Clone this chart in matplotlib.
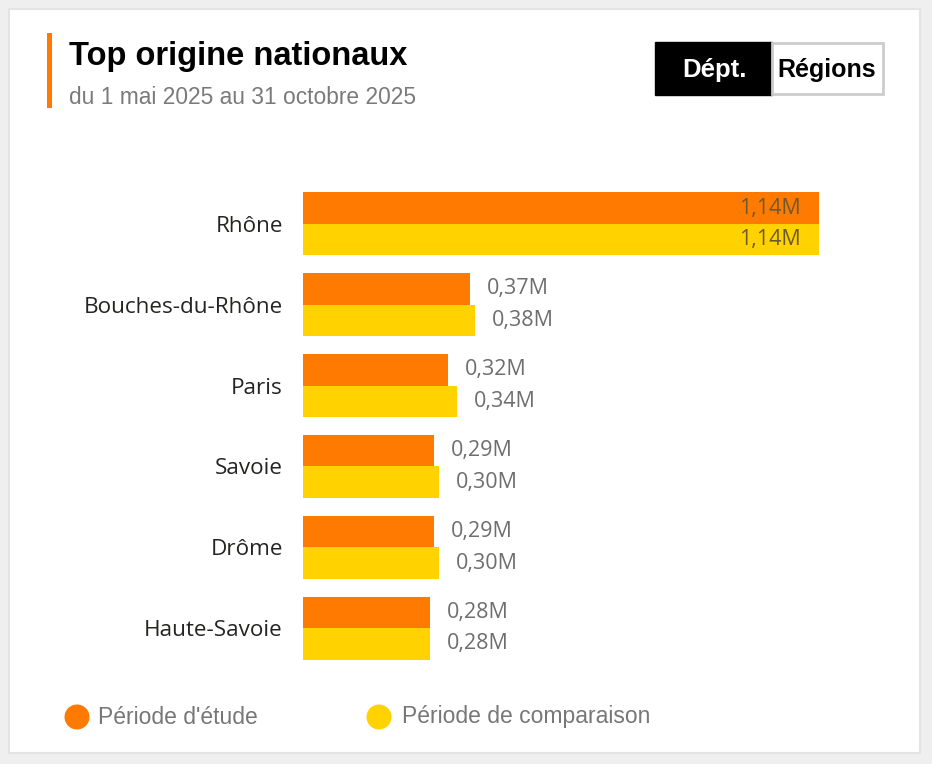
import matplotlib.pyplot as plt
from matplotlib.patches import Rectangle, Ellipse

# data (millions)
departements = ["Rhône", "Bouches-du-Rhône", "Paris", "Savoie", "Drôme", "Haute-Savoie"]
periode_etude = [1.14, 0.37, 0.32, 0.29, 0.29, 0.28]
periode_comparaison = [1.14, 0.38, 0.34, 0.30, 0.30, 0.28]
legende = ["Période d'étude", "Période de comparaison"]

ORANGE = "#FF7A00"
JAUNE = "#FFD200"
W, H = 932, 764

def fx(px):
    return px / W

def fy(py):
    return 1 - py / H

def fmt(v):
    return ("%.2f" % v).replace(".", ",") + "M"

fig = plt.figure(figsize=(W / 100, H / 100), dpi=100, facecolor="#efefef")

# white card
fig.patches.append(Rectangle((fx(9), fy(753)), fx(911), (753 - 9) / H, transform=fig.transFigure,
                             facecolor="white", edgecolor="#e4e4e4", lw=1.5, zorder=-10))
# accent bar
fig.patches.append(Rectangle((fx(47), fy(108)), fx(5), 75 / H, transform=fig.transFigure,
                             facecolor=ORANGE, edgecolor="none", zorder=1))

fig.text(fx(69), fy(57), "Top origine nationaux", fontsize=23.5, fontweight="bold",
         family="Liberation Sans", va="center", ha="left")
fig.text(fx(69), fy(97), "du 1 mai 2025 au 31 octobre 2025", fontsize=16.4,
         family="Liberation Sans", color="#7a7a7a", va="center", ha="left")

# toggle buttons
fig.patches.append(Rectangle((fx(655), fy(95)), fx(117), 53 / H, transform=fig.transFigure,
                             facecolor="black", edgecolor="black", zorder=1))
fig.patches.append(Rectangle((fx(772), fy(94)), fx(111), 51 / H, transform=fig.transFigure,
                             facecolor="white", edgecolor="#cccccc", lw=2, zorder=1))
fig.text(fx(714), fy(70), "Dépt.", fontsize=18.5, fontweight="bold", color="white",
         family="Liberation Sans", ha="center", va="center")
fig.text(fx(827), fy(70), "Régions", fontsize=18, fontweight="bold", color="black",
         family="Liberation Sans", ha="center", va="center")

# bars
ax = fig.add_axes([fx(303), fy(668.5), fx(881 - 303), (668.5 - 183.5) / H])
ax.set_zorder(5)
ax.set_facecolor("none")
h = 0.39
ys = list(range(len(departements)))
ax.barh([y - h / 2 for y in ys], periode_etude, height=h, color=ORANGE)
ax.barh([y + h / 2 for y in ys], periode_comparaison, height=h, color=JAUNE)
ax.set_xlim(0, 1.277)
ax.set_ylim(len(departements) - 0.5, -0.5)
ax.set_yticks(ys)
ax.set_yticklabels(departements, fontsize=16.2, family="Open Sans", color="#252423")
ax.tick_params(axis="y", length=0, pad=14.5)
ax.set_xticks([])
for s in ax.spines.values():
    s.set_visible(False)

xmax = max(periode_etude)
for serie, off in ((periode_etude, -h / 2), (periode_comparaison, h / 2)):
    for y, v in zip(ys, serie):
        if v > 0.8 * xmax:
            ax.text(v - 0.04, y + off, fmt(v), ha="right", va="center", fontsize=15.5,
                    family="Open Sans", color="#6b5a30")
        else:
            ax.text(v + 0.037, y + off, fmt(v), ha="left", va="center", fontsize=15.5,
                    family="Open Sans", color="#6e6e6e")

# legend
for cx, tx, col, lab in ((77, 98, ORANGE, legende[0]), (379, 402, JAUNE, legende[1])):
    fig.patches.append(Ellipse((fx(cx), fy(717)), 25 / W, 25 / H, transform=fig.transFigure,
                               facecolor=col, edgecolor="none"))
    fig.text(fx(tx), fy(717), lab, fontsize=16.5, family="Liberation Sans", color="#777777",
             va="center", ha="left")

fig.savefig("out.png", dpi=100, facecolor=fig.get_facecolor())
